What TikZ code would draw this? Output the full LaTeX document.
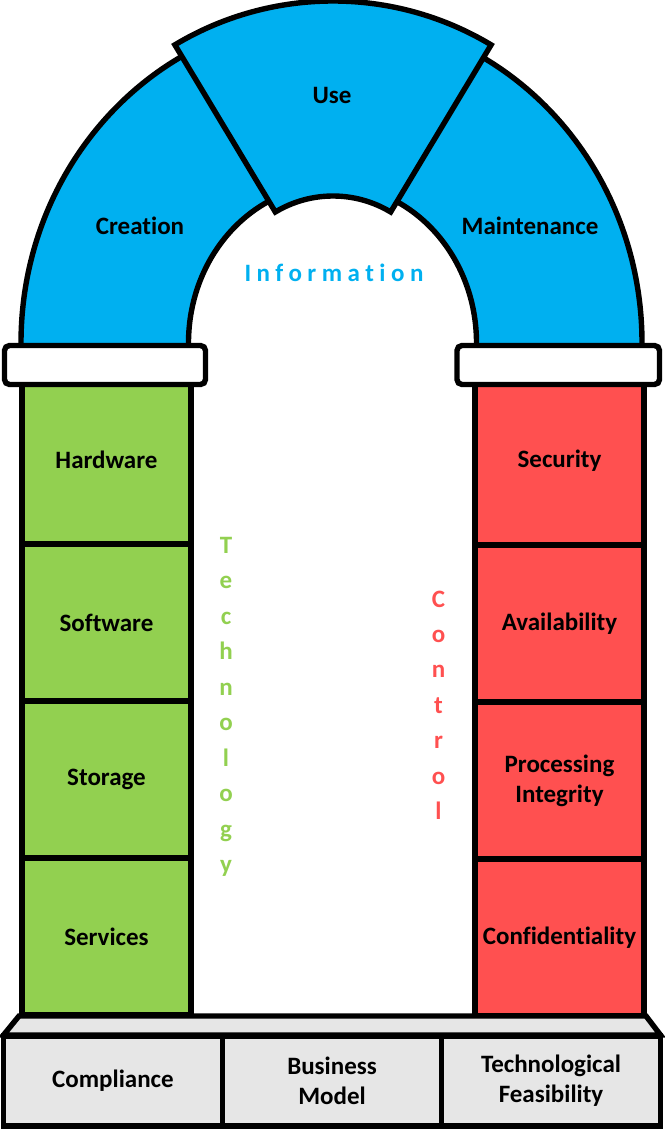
\documentclass[tikz,border=0pt]{standalone}
\usepackage{fontspec}
\setmainfont[Ligatures=NoCommon]{Carlito}
\usepackage{tikz}
\usetikzlibrary{positioning}
\definecolor{archblue}{HTML}{00B0F0}
\definecolor{techgreen}{HTML}{92D050}
\definecolor{ctrlred}{HTML}{FF5050}
\definecolor{basegrey}{HTML}{E6E6E6}
\tikzstyle{line_style} = [draw=black, line width=2.7pt]
\tikzstyle{cap_style} = [line_style, fill=white, rounded corners=2.5pt]
\tikzstyle{label_style} = [font=\fontsize{12.5}{15}\selectfont\bfseries]
\tikzstyle{cell_style} = [rectangle, draw, line width=2.7pt, outer sep=0pt, align=center, minimum width=84.5pt, minimum height=78.5pt, label_style]
\tikzstyle{base_style} = [cell_style, fill=basegrey, minimum width=109.5pt, minimum height=45pt]

\begin{document}
\begin{tikzpicture}[x=0.5pt, y=-0.5pt]
	  \useasboundingbox (0,0) rectangle (664,1129);

	  % arch
	  \draw[line_style, fill=archblue] (21,350) -- (21,343) arc[start angle=180, end angle=360, x radius=310.5, y radius=327] -- (642,350) -- (476.5,350) -- (476.5,343) arc[start angle=0, end angle=-180, x radius=144, y radius=158] -- (188.5,350) -- cycle;
	  \draw[line_style, fill=archblue, shift={(333,308)}] (239:307) arc[start angle=239, end angle=301, radius=307] -- (301:112) arc[start angle=301, end angle=239, radius=112] -- cycle;
	  \node[label_style] (creation) at (140,226) {Creation};
	  \node[label_style] (use) at (332,95) {Use};
	  \node[label_style] (maintenance) at (530,226) {Maintenance};
	  \node[label_style, text=archblue] (information) at (334,273) {\addfontfeature{LetterSpace=22}Information};

	  % left column
	  \node[cell_style, fill=techgreen, minimum height=84pt] (hardware) at (106.5,460) {Hardware};
	  \node[cell_style, fill=techgreen, below=0pt of hardware] (software) {Software};
	  \node[cell_style, fill=techgreen, below=0pt of software] (storage) {Storage};
	  \node[cell_style, fill=techgreen, below=0pt of storage] (services) {Services};

	  % right column
	  \node[cell_style, fill=ctrlred, minimum height=84pt] (security) at (559.5,461) {Security};
	  \node[cell_style, fill=ctrlred, below=0pt of security] (availability) {Availability};
	  \node[cell_style, fill=ctrlred, below=0pt of availability] (processing) {Processing\\Integrity};
	  \node[cell_style, fill=ctrlred, below=0pt of processing] (confidentiality) {Confidentiality};

	  % capitals
	  \draw[cap_style] (4.5,345.5) rectangle (205.5,384.5);
	  \draw[cap_style] (457,345.5) rectangle (659.5,384.5);

	  % vertical words
	  \foreach \ch [count=\i] in {T,e,c,h,n,o,l,o,g,y}
	    \node[label_style, text=techgreen, anchor=base] (tech\i) at (226,{553+35.5*(\i-1)}) {\ch};
	  \foreach \ch [count=\i] in {C,o,n,t,r,o,l}
	    \node[label_style, text=ctrlred, anchor=base] (ctrl\i) at (438.5,{607+35.4*(\i-1)}) {\ch};

	  % base
	  \draw[line_style, fill=basegrey] (19,1016) -- (646,1016) -- (660.5,1035) -- (3.5,1035) -- cycle;
	  \node[base_style] (compliance) at (113,1081) {Compliance};
	  \node[base_style, right=0pt of compliance] (business) {Business\\Model};
	  \node[base_style, right=0pt of business] (feasibility) {Technological\\Feasibility};

\end{tikzpicture}
\end{document}
